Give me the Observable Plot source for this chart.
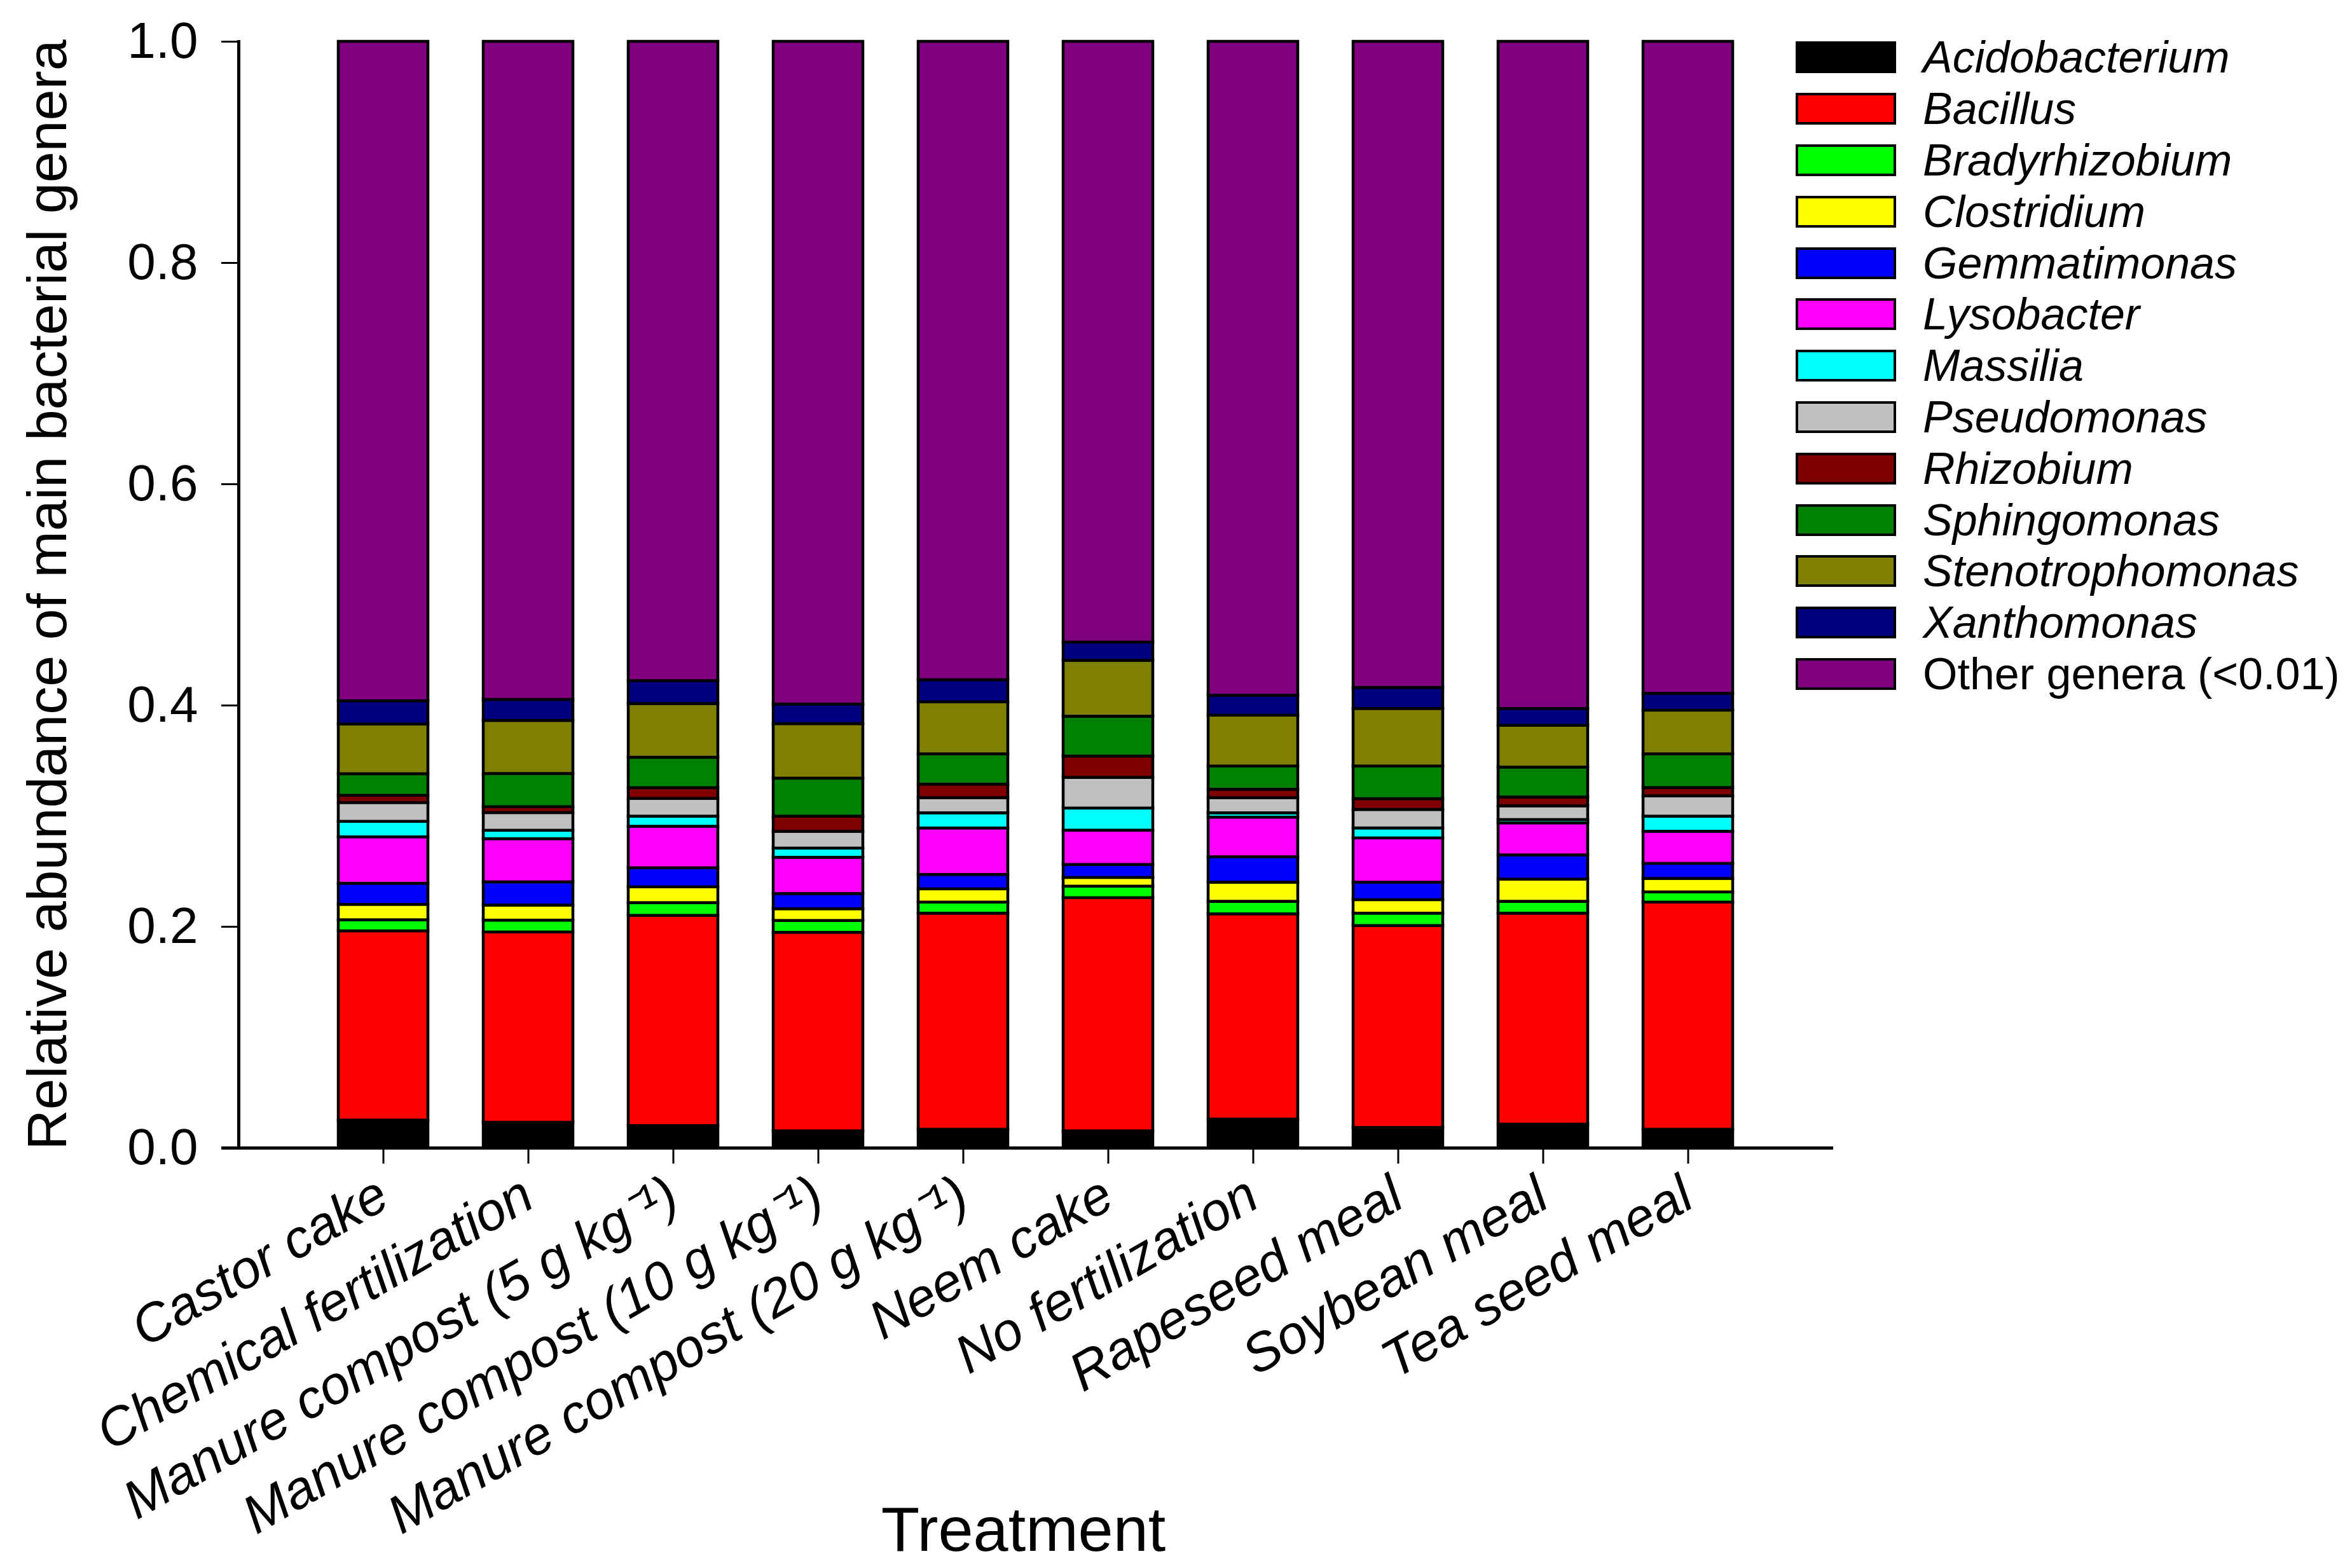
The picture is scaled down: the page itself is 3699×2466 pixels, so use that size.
<!DOCTYPE html>
<html>
<head>
<meta charset="utf-8">
<script src="https://cdn.jsdelivr.net/npm/d3@7"></script>
<script src="https://cdn.jsdelivr.net/npm/@observablehq/plot@0.6"></script>
<style>
  html, body { margin: 0; padding: 0; background: #fff; }
  #wrap { position: relative; width: 3699px; height: 2466px; font-family: "Liberation Sans", Arial, sans-serif; }
  #legend { position: absolute; left: 2824px; top: 50px; }
  .row { height: 80.8px; display: flex; align-items: center; white-space: nowrap; }
  .sw { width: 158px; height: 50px; border: 4px solid #000; box-sizing: border-box; flex: none; }
  .lab { margin-left: 42px; font-size: 70px; color: #000; line-height: 1; }
</style>
</head>
<body>
<div id="wrap"><div id="chart"></div><div id="legend"></div></div>
<script>
const treatments = [
  "Castor cake", "Chemical fertilization", "Manure compost (5 g kg\u207B\u00B9)",
  "Manure compost (10 g kg\u207B\u00B9)", "Manure compost (20 g kg\u207B\u00B9)", "Neem cake",
  "No fertilization", "Rapeseed meal", "Soybean meal", "Tea seed meal"
];
const genera = [
  "Acidobacterium", "Bacillus", "Bradyrhizobium", "Clostridium", "Gemmatimonas",
  "Lysobacter", "Massilia", "Pseudomonas", "Rhizobium", "Sphingomonas",
  "Stenotrophomonas", "Xanthomonas", "Other genera (<0.01)"
];
const colors = [
  "#000000", "#ff0000", "#00ff00", "#ffff00", "#0000ff", "#ff00ff", "#00ffff",
  "#c0c0c0", "#800000", "#008000", "#808000", "#000080", "#800080"
];
// relative abundance per genus, one value per treatment (same order as treatments)
const acidobacterium   = [0.025, 0.023, 0.020, 0.0152, 0.0167, 0.0152, 0.0259, 0.0183, 0.0213, 0.0167];
const bacillus         = [0.171, 0.172, 0.190, 0.1795, 0.1953, 0.2108, 0.1855, 0.1825, 0.1907, 0.2053];
const bradyrhizobium   = [0.010, 0.0107, 0.0115, 0.0107, 0.010, 0.0104, 0.0113, 0.0112, 0.0107, 0.0092];
const clostridium      = [0.014, 0.0136, 0.0143, 0.0106, 0.012, 0.0079, 0.0173, 0.0122, 0.0201, 0.0122];
const gemmatimonas     = [0.019, 0.021, 0.0172, 0.0137, 0.013, 0.0117, 0.023, 0.0158, 0.0219, 0.0136];
const lysobacter       = [0.042, 0.039, 0.0375, 0.0328, 0.042, 0.031, 0.0358, 0.040, 0.0289, 0.029];
const massilia         = [0.014, 0.0076, 0.0092, 0.0083, 0.0137, 0.020, 0.0039, 0.009, 0.003, 0.0137];
const pseudomonas      = [0.017, 0.016, 0.016, 0.0152, 0.0137, 0.0277, 0.0137, 0.0167, 0.0124, 0.0183];
const rhizobium        = [0.0065, 0.0053, 0.0097, 0.0137, 0.0122, 0.0193, 0.0076, 0.0098, 0.008, 0.0075];
const sphingomonas     = [0.0195, 0.030, 0.0275, 0.0343, 0.0274, 0.036, 0.021, 0.0295, 0.027, 0.0305];
const stenotrophomonas = [0.045, 0.048, 0.0486, 0.0493, 0.047, 0.0505, 0.046, 0.052, 0.0378, 0.0395];
const xanthomonas      = [0.021, 0.019, 0.0207, 0.0177, 0.020, 0.0165, 0.018, 0.019, 0.0152, 0.0152];
const otherGenera      = [0.596, 0.5948, 0.5778, 0.599, 0.577, 0.543, 0.591, 0.584, 0.603, 0.5893];

const series = [acidobacterium, bacillus, bradyrhizobium, clostridium, gemmatimonas, lysobacter,
  massilia, pseudomonas, rhizobium, sphingomonas, stenotrophomonas, xanthomonas, otherGenera];
const yTicks = [0, 0.2, 0.4, 0.6, 0.8, 1.0];

const data = [];
genera.forEach((g, gi) => treatments.forEach((t, ti) => data.push({genus: g, treatment: t, value: series[gi][ti]})));

const font = "'Liberation Sans', Arial, sans-serif";
const chart = Plot.plot({
  width: 3699,
  height: 2466,
  marginLeft: 375,
  marginRight: 816,
  marginTop: 65,
  marginBottom: 661,
  style: {fontFamily: font, background: "#fff", color: "#000", overflow: "visible"},
  x: {domain: treatments, paddingInner: 0.38, paddingOuter: 0.69, label: null, axis: null},
  y: {domain: [0, 1], label: null, axis: null},
  color: {domain: genera, range: colors},
  marks: [
    Plot.barY(data, {x: "treatment", y: "value", fill: "genus", order: genera, stroke: "#000", strokeWidth: 4.5}),
    Plot.axisY({ticks: yTicks, tickFormat: d3.format(".1f"), tickSize: 27, tickPadding: 37, fontSize: 80, strokeWidth: 3, label: null}),
    Plot.axisX({tickSize: 25, tickPadding: 42, tickRotate: -30, fontSize: 84, fontStyle: "italic", strokeWidth: 3, label: null}),
    Plot.frame({anchor: "left", strokeWidth: 5}),
    Plot.ruleY([0], {strokeWidth: 5, insetLeft: -27}),
    Plot.text(["Relative abundance of main bacterial genera"], {text: d => d, frameAnchor: "left", textAnchor: "middle", dx: -300, rotate: -90, fontSize: 88}),
    Plot.text(["Treatment"], {text: d => d, frameAnchor: "bottom", dx: -20, dy: 633, fontSize: 99})
  ]
});
document.getElementById("chart").appendChild(chart);

const legend = document.getElementById("legend");
genera.forEach((g, i) => {
  const row = document.createElement("div");
  row.className = "row";
  const sw = document.createElement("div");
  sw.className = "sw";
  sw.style.background = colors[i];
  const lab = document.createElement("span");
  lab.className = "lab";
  lab.textContent = g;
  lab.style.fontStyle = i < genera.length - 1 ? "italic" : "normal";
  row.appendChild(sw);
  row.appendChild(lab);
  legend.appendChild(row);
});
</script>
</body>
</html>
